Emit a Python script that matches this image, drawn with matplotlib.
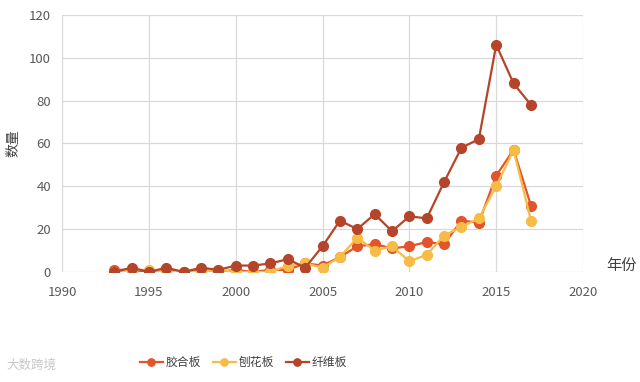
import matplotlib
matplotlib.use("Agg")
import matplotlib.pyplot as plt

plt.rcParams['font.family'] = ['Noto Sans CJK SC', 'DejaVu Sans']

years = list(range(1993, 2018))
# 胶合板
glulam = [1, 1, 0, 1, 0, 1, 0, 1, 0, 1, 1, 4, 3, 7, 12, 13, 11, 12, 14, 13, 24, 23, 45, 57, 31]
# 刨花板
particle = [0, 1, 1, 0, 0, 0, 1, 0, 0, 0, 3, 4, 2, 7, 16, 10, 12, 5, 8, 17, 21, 25, 40, 57, 24]
# 纤维板
fiber = [0, 2, 0, 2, 0, 2, 1, 3, 3, 4, 6, 2, 12, 24, 20, 27, 19, 26, 25, 42, 58, 62, 106, 88, 78]

labels = ['胶合板', '刨花板', '纤维板']
colors = ['#E2542B', '#F6BC45', '#B4452A']

fig = plt.figure(figsize=(6.4, 3.82), dpi=100)
ax = fig.add_axes([0.097, 0.288, 0.814, 0.673])

for vals, lab, col in zip([glulam, particle, fiber], labels, colors):
    ax.plot(years, vals, color=col, lw=1.6, marker='o', ms=7, label=lab)

ax.set_xlim(1990, 2020)
ax.set_ylim(0, 120)
ax.set_xticks(range(1990, 2021, 5))
ax.set_yticks(range(0, 121, 20))
ax.grid(True, color='#D9D9D9', lw=0.9)
ax.set_axisbelow(True)
for s in ax.spines.values():
    s.set_visible(False)
ax.tick_params(length=0, labelsize=9.5, colors='#595959')
ax.tick_params(axis='x', pad=10)
ax.tick_params(axis='y', pad=8)

ax.set_ylabel('数量', fontsize=10, color='#404040', labelpad=6)
fig.text(0.948, 0.305, '年份', fontsize=11, color='#404040', va='center')

leg = fig.legend(loc='center', bbox_to_anchor=(0.38, 0.052), ncol=3, frameon=False,
                 fontsize=8.5, handlelength=2.0, columnspacing=1.0, handletextpad=0.2,
                 labelcolor='#404040', markerscale=0.75)
fig.text(0.01, 0.035, '大数跨境', fontsize=9, color='#C8C8C8')

fig.savefig('out.png', dpi=100)
